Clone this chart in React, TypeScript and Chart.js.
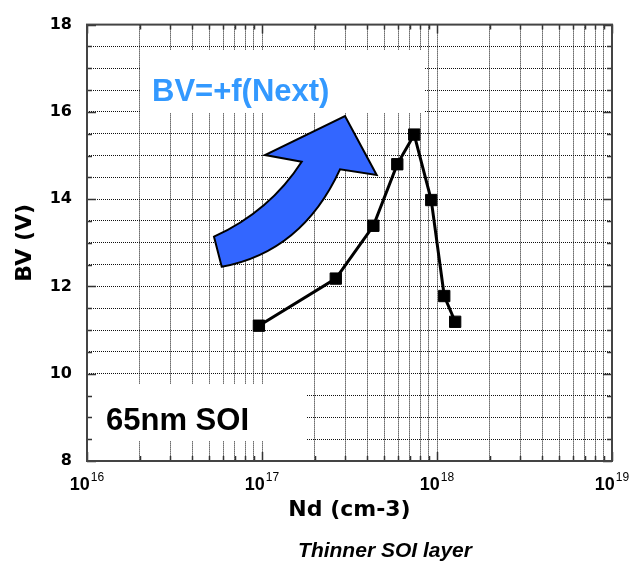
import { useEffect, useRef } from 'react';
import { Chart, registerables } from 'chart.js';

Chart.register(...registerables);

// ---- data ----
const ND = [9.6e16, 2.64e17, 4.33e17, 5.93e17, 7.41e17, 9.27e17, 1.1e18, 1.27e18];
const BV = [11.1, 12.18, 13.39, 14.8, 15.48, 13.98, 11.78, 11.19];

// ---- axes ----
const X_EXPONENTS = [16, 17, 18, 19];
const X_MINOR_MULTS = [2, 3, 4, 5, 6, 7, 8, 9];
const Y_MIN = 8;
const Y_MAX = 18;
const Y_STEP = 0.5;
const Y_LABEL_EVERY = 2;
const X_TITLE = 'Nd (cm-3)';
const Y_TITLE = 'BV (V)';
const FORMULA_TEXT = 'BV=+f(Next)';
const NODE_TEXT = '65nm SOI';
const CAPTION_TEXT = 'Thinner SOI layer';

const ARIAL = "Arial, 'Liberation Sans', Helvetica, sans-serif";
const DEJAVU = "'DejaVu Sans', Verdana, sans-serif";

function xTickValues(): number[] {
  const out: number[] = [];
  for (let i = 0; i < X_EXPONENTS.length; i++) {
    const e = X_EXPONENTS[i];
    out.push(Math.pow(10, e));
    if (i < X_EXPONENTS.length - 1) {
      for (const m of X_MINOR_MULTS) out.push(m * Math.pow(10, e));
    }
  }
  return out;
}

const overlayPlugin = {
  id: 'overlay',
  beforeDatasetsDraw(chart: any) {
    const ctx = chart.ctx as CanvasRenderingContext2D;
    ctx.save();
    // white label boxes over the grid
    ctx.fillStyle = '#ffffff';
    ctx.fillRect(141, 50, 284, 63);
    ctx.fillRect(88, 384, 218, 57);

    // curved arrow
    ctx.beginPath();
    ctx.moveTo(214, 236.7);
    ctx.lineTo(221.7, 266.7);
    ctx.quadraticCurveTo(302, 252, 340, 169.3);
    ctx.lineTo(376.7, 175);
    ctx.lineTo(345, 116);
    ctx.lineTo(265, 155);
    ctx.lineTo(301.7, 161.7);
    ctx.quadraticCurveTo(270, 211, 214, 236.7);
    ctx.closePath();
    ctx.fillStyle = '#3366ff';
    ctx.fill();
    ctx.lineWidth = 2;
    ctx.strokeStyle = '#000';
    ctx.lineJoin = 'miter';
    ctx.stroke();

    // annotation texts
    ctx.textAlign = 'left';
    ctx.textBaseline = 'alphabetic';
    ctx.fillStyle = 'rgb(51,153,255)';
    ctx.font = `bold 31px ${ARIAL}`;
    ctx.fillText(FORMULA_TEXT, 152, 101);
    ctx.fillStyle = '#000';
    ctx.font = `bold 31px ${ARIAL}`;
    ctx.fillText(NODE_TEXT, 106, 430);
    ctx.restore();
  },
  afterDraw(chart: any) {
    const ctx = chart.ctx as CanvasRenderingContext2D;
    const ca = chart.chartArea;
    const xs = chart.scales.x;
    const ys = chart.scales.y;
    ctx.save();
    // inward tick marks
    ctx.strokeStyle = '#333';
    ctx.lineWidth = 1.5;
    ctx.setLineDash([]);
    for (let v = Y_MIN; v <= Y_MAX + 1e-9; v += Y_STEP) {
      const y = Math.round(ys.getPixelForValue(v)) + 0.5;
      const len = Math.abs(v % Y_LABEL_EVERY) < 1e-9 ? 9 : 5;
      ctx.beginPath();
      ctx.moveTo(ca.left, y);
      ctx.lineTo(ca.left + len, y);
      ctx.moveTo(ca.right, y);
      ctx.lineTo(ca.right - len, y);
      ctx.stroke();
    }
    for (const v of xTickValues()) {
      const x = Math.round(xs.getPixelForValue(v)) + 0.5;
      const major = Math.abs(Math.log10(v) - Math.round(Math.log10(v))) < 1e-9;
      const len = major ? 9 : 5;
      ctx.beginPath();
      ctx.moveTo(x, ca.bottom);
      ctx.lineTo(x, ca.bottom - len);
      ctx.moveTo(x, ca.top);
      ctx.lineTo(x, ca.top + len);
      ctx.stroke();
    }
    // frame
    ctx.strokeStyle = '#444';
    ctx.lineWidth = 2;
    ctx.strokeRect(ca.left, ca.top, ca.right - ca.left, ca.bottom - ca.top);

    // x tick labels 10^n
    ctx.fillStyle = '#000';
    ctx.textBaseline = 'alphabetic';
    ctx.textAlign = 'left';
    for (const e of X_EXPONENTS) {
      const x = xs.getPixelForValue(Math.pow(10, e));
      ctx.font = `bold 18px ${ARIAL}`;
      const w1 = ctx.measureText('10').width;
      ctx.font = `12px ${ARIAL}`;
      const sup = String(e);
      const w2 = ctx.measureText(sup).width;
      const start = x - (w1 + w2 + 1) / 2;
      ctx.font = `bold 18px ${ARIAL}`;
      ctx.fillText('10', start, 490);
      ctx.font = `12px ${ARIAL}`;
      ctx.fillText(sup, start + w1 + 1, 481);
    }

    // caption
    ctx.font = `italic bold 21px ${ARIAL}`;
    ctx.textAlign = 'center';
    ctx.fillText(CAPTION_TEXT, 385, 557);
    ctx.restore();
  },
};

export default function App() {
  const ref = useRef<HTMLCanvasElement>(null);
  useEffect(() => {
    const canvas = ref.current;
    if (!canvas) return;
    const ticks = xTickValues();
    const chart = new Chart(canvas, {
      type: 'scatter',
      data: {
        datasets: [
          {
            data: ND.map((x, i) => ({ x, y: BV[i] })),
            showLine: true,
            borderColor: '#000',
            borderWidth: 3,
            pointStyle: 'rect',
            pointRadius: 8,
            pointBackgroundColor: '#000',
            pointBorderColor: '#000',
            pointBorderWidth: 1,
            tension: 0,
          },
        ],
      },
      options: {
        animation: false,
        responsive: false,
        devicePixelRatio: 1,
        layout: { padding: { left: 0, top: 17, right: 17, bottom: 0 } },
        plugins: {
          legend: { display: false },
          tooltip: { enabled: false },
          title: { display: false },
        },
        scales: {
          x: {
            type: 'logarithmic',
            min: Math.pow(10, X_EXPONENTS[0]),
            max: Math.pow(10, X_EXPONENTS[X_EXPONENTS.length - 1]),
            afterBuildTicks: (s: any) => {
              s.ticks = ticks.map((v) => ({ value: v }));
            },
            afterFit: (s: any) => {
              s.height = 111;
            },
            grid: { color: '#111', lineWidth: 1, drawTicks: false },
            border: { display: false, dash: [1, 1] },
            ticks: { callback: () => '', autoSkip: false, maxRotation: 0, padding: 0 },
            title: {
              display: true,
              text: X_TITLE,
              color: '#000',
              font: { family: DEJAVU, weight: 'bold', size: 22 },
              padding: { top: 0, bottom: 49 },
            },
          },
          y: {
            type: 'linear',
            min: Y_MIN,
            max: Y_MAX,
            afterFit: (s: any) => {
              s.width = 87;
            },
            grid: { color: '#111', lineWidth: 1, drawTicks: false },
            border: { display: false, dash: [1, 1] },
            ticks: {
              stepSize: Y_STEP,
              autoSkip: false,
              padding: 15,
              color: '#000',
              font: { family: DEJAVU, weight: 'bold', size: 16 },
              callback: (v: any) => (Math.abs(Number(v) % Y_LABEL_EVERY) < 1e-9 ? String(v) : ''),
            },
            title: {
              display: true,
              text: Y_TITLE,
              color: '#000',
              font: { family: DEJAVU, weight: 'bold', size: 22 },
              padding: { top: 12, bottom: 0 },
            },
          },
        },
      },
      plugins: [overlayPlugin],
    } as any);
    return () => chart.destroy();
  }, []);
  return (
    <div style={{ position: 'fixed', left: 0, top: 0, width: 629, height: 572, background: '#fff' }}>
      <canvas ref={ref} width={629} height={572} style={{ display: 'block', width: 629, height: 572 }} />
    </div>
  );
}
